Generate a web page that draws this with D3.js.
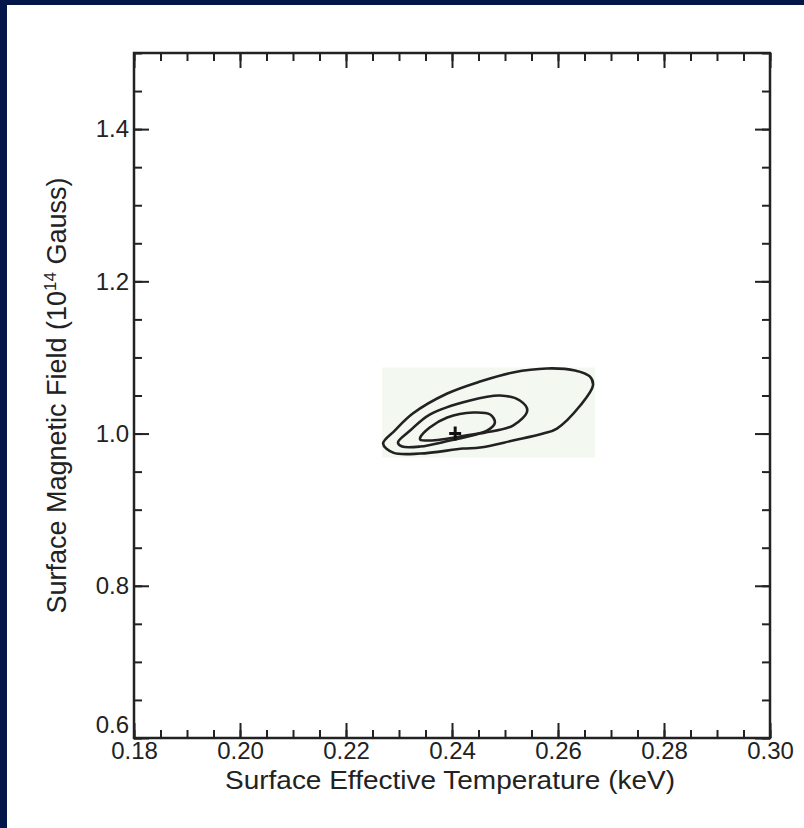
<!DOCTYPE html>
<html>
<head>
<meta charset="utf-8">
<script src="https://cdn.jsdelivr.net/npm/d3@7"></script>
<style>
  body { margin: 0; background: #fff; }
  svg text { font-family: "Liberation Sans", Arial, sans-serif; fill: #222; }
</style>
</head>
<body>
<div id="chart"></div>
<script>
// axis ranges and tick labels
const xDomain = [0.18, 0.30];
const yDomain = [0.6, 1.5];
const xTickValues = [0.18, 0.20, 0.22, 0.24, 0.26, 0.28, 0.30];
const yTickValues = [0.6, 0.8, 1.0, 1.2, 1.4];
const xMinorStep = 0.005;
const yMinorStep = 0.05;

// best fit point
const bestFit = [0.2406, 1.0];

// confidence contours [kT keV, B 1e14 G]
const contourOuter = [
  [0.2270, 0.9868], [0.2292, 1.0039], [0.2326, 1.0263], [0.2391, 1.0526],
  [0.2453, 1.0684], [0.2515, 1.0803], [0.2579, 1.0855], [0.2632, 1.0829],
  [0.2660, 1.0750], [0.2666, 1.0632], [0.2642, 1.0368], [0.2598, 1.0066],
  [0.2572, 1.0000], [0.2515, 0.9908], [0.2453, 0.9816], [0.2421, 0.9803],
  [0.2340, 0.9737], [0.2289, 0.9750]
];
const contourMiddle = [
  [0.2298, 0.9882], [0.2321, 1.0039], [0.2358, 1.0250], [0.2434, 1.0434],
  [0.2491, 1.0500], [0.2528, 1.0434], [0.2542, 1.0303], [0.2515, 1.0105],
  [0.2453, 1.0000], [0.2396, 0.9908], [0.2340, 0.9829], [0.2306, 0.9829]
];
const contourInner = [
  [0.2340, 0.9947], [0.2358, 1.0079], [0.2391, 1.0211], [0.2440, 1.0276],
  [0.2472, 1.0250], [0.2481, 1.0145], [0.2466, 1.0039], [0.2415, 0.9961],
  [0.2358, 0.9908], [0.2340, 0.9921]
];
// faint tinted box behind the contours
const shadeBox = { x0: 0.2268, x1: 0.2670, y0: 0.9684, y1: 1.0868 };

const W = 804, H = 828;
const margin = { top: 53, right: 34, bottom: 90, left: 134 };
const innerW = W - margin.left - margin.right;
const innerH = H - margin.top - margin.bottom;
const tickFont = 24;

const svg = d3.select('#chart').append('svg')
  .attr('width', W)
  .attr('height', H);

// navy slide border (top and left)
svg.append('rect').attr('width', W).attr('height', H).attr('fill', '#03164a');
svg.append('rect').attr('x', 7).attr('y', 5).attr('width', W - 7).attr('height', H - 5).attr('fill', '#fff');

const g = svg.append('g').attr('transform', `translate(${margin.left},${margin.top})`);

const x = d3.scaleLinear().domain(xDomain).range([0, innerW]);
const y = d3.scaleLinear().domain(yDomain).range([innerH, 0]);

g.append('rect')
  .attr('x', x(shadeBox.x0))
  .attr('y', y(shadeBox.y1))
  .attr('width', x(shadeBox.x1) - x(shadeBox.x0))
  .attr('height', y(shadeBox.y0) - y(shadeBox.y1))
  .attr('fill', '#f3f8f0');

const xMinor = d3.range(xDomain[0], xDomain[1] + 1e-9, xMinorStep);
const yMinor = d3.range(yDomain[0], yDomain[1] + 1e-9, yMinorStep);
const majorLen = 15, minorLen = 8;

function styleAxis(sel) {
  sel.select('.domain').remove();
  sel.selectAll('.tick line').attr('stroke', '#222').attr('stroke-width', 2);
}

// minor ticks, all four sides, pointing inward
g.append('g').attr('transform', `translate(0,${innerH})`)
  .call(d3.axisBottom(x).tickValues(xMinor).tickSize(-minorLen).tickFormat(''))
  .call(styleAxis);
g.append('g')
  .call(d3.axisTop(x).tickValues(xMinor).tickSize(-minorLen).tickFormat(''))
  .call(styleAxis);
g.append('g')
  .call(d3.axisLeft(y).tickValues(yMinor).tickSize(-minorLen).tickFormat(''))
  .call(styleAxis);
g.append('g').attr('transform', `translate(${innerW},0)`)
  .call(d3.axisRight(y).tickValues(yMinor).tickSize(-minorLen).tickFormat(''))
  .call(styleAxis);

// major ticks with labels
const gx = g.append('g').attr('transform', `translate(0,${innerH})`)
  .call(d3.axisBottom(x).tickValues(xTickValues).tickSizeInner(-majorLen).tickSizeOuter(0)
    .tickPadding(4).tickFormat(d3.format('.2f')))
  .call(styleAxis);
gx.selectAll('.tick text').attr('font-size', tickFont);

g.append('g')
  .call(d3.axisTop(x).tickValues(xTickValues).tickSize(-majorLen).tickFormat(''))
  .call(styleAxis);

const gy = g.append('g')
  .call(d3.axisLeft(y).tickValues(yTickValues).tickSizeInner(-majorLen).tickSizeOuter(0)
    .tickPadding(5).tickFormat(d3.format('.1f')))
  .call(styleAxis);
gy.selectAll('.tick text').attr('font-size', tickFont);
// lowest label sits above its tick, clear of the x labels
gy.selectAll('.tick text').filter(d => d === yDomain[0]).attr('dy', '-0.22em');

g.append('g').attr('transform', `translate(${innerW},0)`)
  .call(d3.axisRight(y).tickValues(yTickValues).tickSize(-majorLen).tickFormat(''))
  .call(styleAxis);

// frame
g.append('rect')
  .attr('width', innerW)
  .attr('height', innerH)
  .attr('fill', 'none')
  .attr('stroke', '#222')
  .attr('stroke-width', 2.5);

// contours
const line = d3.line()
  .x(d => x(d[0]))
  .y(d => y(d[1]))
  .curve(d3.curveCatmullRomClosed.alpha(0.5));

[contourOuter, contourMiddle, contourInner].forEach(c => {
  g.append('path')
    .attr('d', line(c))
    .attr('fill', 'none')
    .attr('stroke', '#222')
    .attr('stroke-width', 2.6);
});

// best fit cross
const bx = x(bestFit[0]), by = y(bestFit[1]);
g.append('path')
  .attr('d', `M${bx - 6},${by}H${bx + 6}M${bx},${by - 7}V${by + 7}`)
  .attr('stroke', '#111')
  .attr('stroke-width', 3);

// axis titles
svg.append('text')
  .attr('x', margin.left + innerW / 2 - 2)
  .attr('y', 789)
  .attr('text-anchor', 'middle')
  .attr('font-size', 26)
  .attr('textLength', 450)
  .attr('lengthAdjust', 'spacingAndGlyphs')
  .text('Surface Effective Temperature (keV)');

const yt = svg.append('text')
  .attr('transform', `translate(66,${margin.top + innerH / 2}) rotate(-90)`)
  .attr('text-anchor', 'middle')
  .attr('font-size', 27);
yt.append('tspan').text('Surface Magnetic Field (10');
yt.append('tspan').attr('font-size', 17).attr('dy', -10).text('14');
yt.append('tspan').attr('dy', 10).text(' Gauss)');
</script>
</body>
</html>
